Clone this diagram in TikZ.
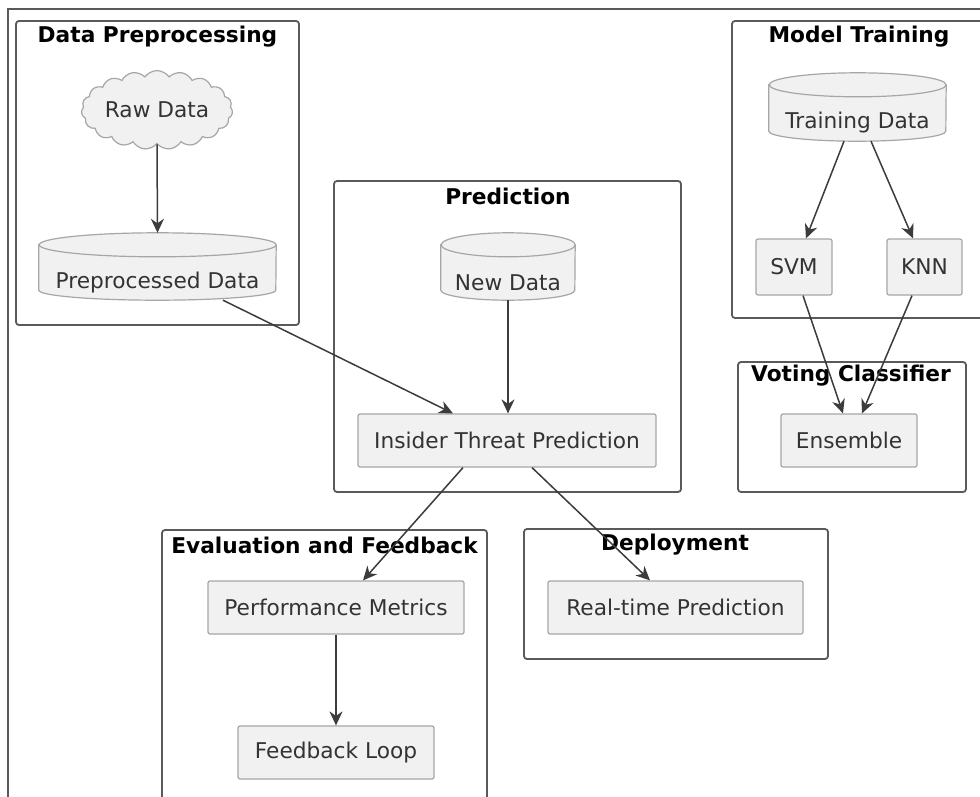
\documentclass[tikz,border=0pt]{standalone}
\usepackage{fontspec}
\setmainfont{DejaVu Sans}
\usetikzlibrary{arrows.meta,shapes.symbols,calc}

\definecolor{nodefill}{HTML}{F1F1F1}
\definecolor{nodeline}{HTML}{A6A6A6}
\definecolor{boxline}{HTML}{5A5A5A}
\definecolor{txtcol}{HTML}{333333}
\definecolor{arrcol}{HTML}{3C3C3C}

\tikzset{
  cluster/.style={draw=boxline, line width=1.8pt, rounded corners=3pt, fill=white,
    inner sep=0pt},
  clustertitle/.style={font=\fontsize{21.7}{24}\selectfont\bfseries, text=black, inner sep=0pt},
  proc/.style={draw=nodeline, line width=1.2pt, fill=nodefill, rounded corners=2pt,
    inner sep=0pt, font=\fontsize{21.7}{24}\selectfont, text=txtcol},
  dbbox/.style={draw=none, inner sep=0pt},
  dbline/.style={draw=nodeline, line width=1.2pt, fill=nodefill},
  txt/.style={font=\fontsize{21.7}{24}\selectfont, text=txtcol, inner sep=0pt},
  flow/.style={draw=arrcol, line width=1.5pt,
    -{Stealth[length=14pt,width=13pt,inset=4.5pt]}},
  frameline/.style={draw=boxline, line width=1.4pt}
}

% database cylinder: name, x, y, width, height, label
\newcommand\dbcyl[6]{%
  \node[dbbox, minimum width=#4pt, minimum height=#5pt] (#1) at (#2,#3) {};
  \path[dbline] ([yshift=-12pt]#1.north west) -- ([yshift=10pt]#1.south west)
    arc[start angle=180, end angle=360, x radius=#4pt/2, y radius=10pt]
    -- ([yshift=-12pt]#1.north east)
    arc[start angle=0, end angle=180, x radius=#4pt/2, y radius=12pt] -- cycle;
  \draw[dbline, fill=none] ([yshift=-12pt]#1.north east)
    arc[start angle=0, end angle=-180, x radius=#4pt/2, y radius=12pt];
  \node[txt] (#1-t) at ([yshift=-16pt]#1.center) {#6};
}

\begin{document}
\begin{tikzpicture}[x=1pt, y=-1pt]
\useasboundingbox (0,0) rectangle (980,797);
\fill[white] (0,0) rectangle (980,797);

% outer frame
\coordinate (fr-tl) at (8,9);
\coordinate (fr-tr) at (981,9);
\coordinate (fr-bl) at (8,798);
\draw[frameline] (fr-tr) -- (fr-tl) -- (fr-bl);

% cluster boxes
\node[cluster, minimum width=283pt, minimum height=304pt] (dp) at (157.5,173) {};
\node[clustertitle] (dp-t) at (157.5,37) {Data Preprocessing};

\node[cluster, minimum width=347pt, minimum height=311pt] (pred) at (507.5,336.5) {};
\node[clustertitle] (pred-t) at (508,196) {Prediction};

\node[cluster, minimum width=256pt, minimum height=297pt] (mt) at (860,169.5) {};
\node[clustertitle] (mt-t) at (859,37) {Model Training};

\node[cluster, minimum width=228pt, minimum height=130pt] (vc) at (852,427) {};
\node[clustertitle] (vc-t) at (851,376) {Voting Classifier};

\node[cluster, minimum width=325pt, minimum height=290pt] (ev) at (324.5,675) {};
\node[clustertitle] (ev-t) at (324.5,545) {Evaluation and Feedback};

\node[cluster, minimum width=304pt, minimum height=130pt] (dep) at (676,594) {};
\node[clustertitle] (dep-t) at (675,545) {Deployment};

% data preprocessing
\node[cloud, cloud puffs=19, cloud puff arc=110, aspect=2.2, draw=nodeline,
  line width=1.2pt, fill=nodefill, minimum width=143pt, minimum height=67pt,
  inner sep=0pt, font=\fontsize{21.7}{24}\selectfont, text=txtcol] (raw) at (157,110) {Raw Data};
\dbcyl{pre}{157.5}{266.5}{237}{67}{Preprocessed Data}

% prediction
\dbcyl{nd}{508}{266.5}{134}{67}{New Data}
\node[proc, minimum width=298pt, minimum height=53pt] (ins) at (507,440.5) {Insider Threat Prediction};

% model training
\dbcyl{td}{857.5}{107}{177}{68}{Training Data}
\node[proc, minimum width=76pt, minimum height=56pt] (svm) at (794,267) {SVM};
\node[proc, minimum width=75pt, minimum height=56pt] (knn) at (924.5,267) {KNN};

% voting classifier
\node[proc, minimum width=136pt, minimum height=53pt] (ens) at (849,440.5) {Ensemble};

% evaluation and feedback
\node[proc, minimum width=256pt, minimum height=53pt] (perf) at (336,607.5) {Performance Metrics};
\node[proc, minimum width=196pt, minimum height=53pt] (fb) at (336,752.5) {Feedback Loop};

% deployment
\node[proc, minimum width=255pt, minimum height=53pt] (rt) at (675.5,607.5) {Real-time Prediction};

% connectors
\draw[flow] (raw.south) -- (pre.north);
\draw[flow] ([xshift=65.5pt]pre.south) -- ([xshift=-54pt]ins.north);
\draw[flow] (nd.south) -- (nd.south |- ins.north);
\draw[flow] ([xshift=-13.5pt]td.south) -- ([xshift=12pt]svm.north);
\draw[flow] ([xshift=13.5pt]td.south) -- ([xshift=-11.5pt]knn.north);
\draw[flow] ([xshift=9pt]svm.south) -- ([xshift=-6pt]ens.north);
\draw[flow] ([xshift=-12.5pt]knn.south) -- ([xshift=13pt]ens.north);
\draw[flow] ([xshift=-44pt]ins.south) -- ([xshift=27pt]perf.north);
\draw[flow] ([xshift=25pt]ins.south) -- ([xshift=-25.5pt]rt.north);
\draw[flow] (perf.south) -- (fb.north);
\end{tikzpicture}
\end{document}
